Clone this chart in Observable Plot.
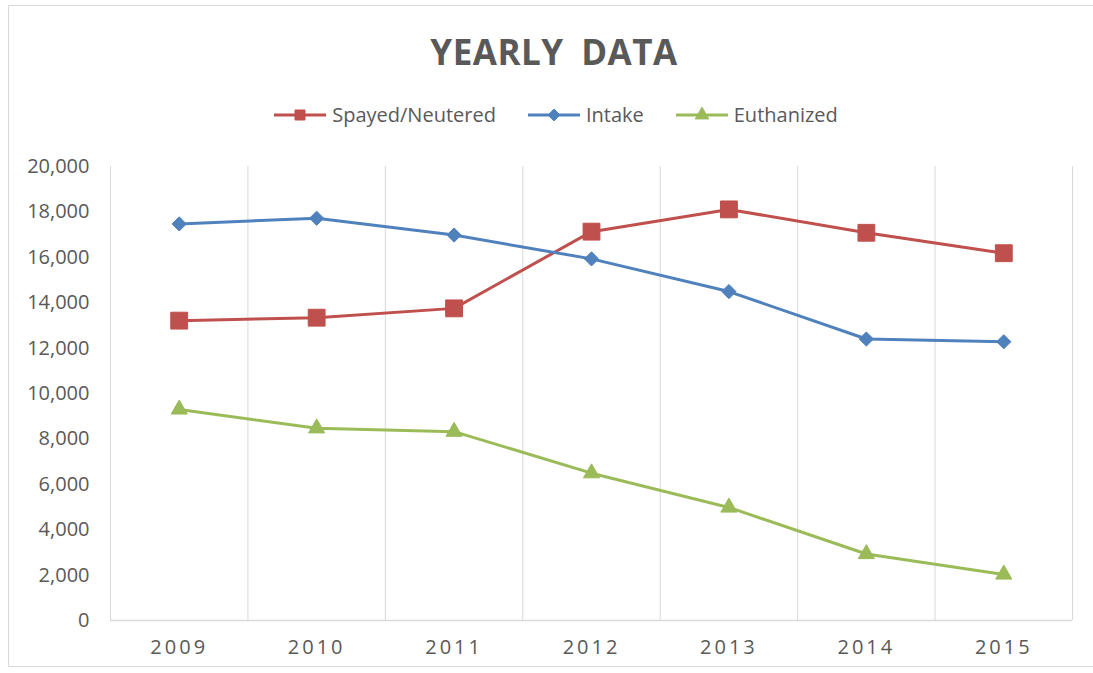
<!DOCTYPE html>
<html>
<head>
<meta charset="utf-8">
<script src="https://cdn.jsdelivr.net/npm/d3@7"></script>
<script src="https://cdn.jsdelivr.net/npm/@observablehq/plot@0.6"></script>
<style>
  html, body { margin: 0; padding: 0; background: #fff; }
  #wrap { position: relative; width: 1093px; height: 673px; overflow: hidden; font-family: "Open Sans", sans-serif; color: #595959; }
  #frame { position: absolute; left: 8px; top: 5px; width: 1100px; height: 662px; border: 1.5px solid #d9d9d9; box-sizing: border-box; }
  #title { position: absolute; left: 0; top: 34px; width: 1108px; text-align: center; font-size: 35px; line-height: 35px; font-weight: 700; letter-spacing: 0.5px; word-spacing: 8px; }
  #legend { position: absolute; left: 0; top: 100px; width: 1112px; height: 30px; display: flex; justify-content: center; align-items: center; font-size: 20px; line-height: 30px; }
  .item { display: flex; align-items: center; margin: 0 16px; }
  .item span { margin-left: 6px; }
  #chart { position: absolute; left: 0; top: 0; }
  #chart g[aria-label="x-axis tick label"] text { letter-spacing: 3px; }
</style>
</head>
<body>
<div id="wrap">
  <div id="frame"></div>
  <div id="chart"></div>
  <div id="title">YEARLY DATA</div>
  <div id="legend"></div>
</div>
<script>
// Yearly shelter figures
const years = [2009, 2010, 2011, 2012, 2013, 2014, 2015];
const spayedNeutered = [13210, 13340, 13750, 17130, 18110, 17080, 16180];
const intake = [17470, 17720, 16980, 15930, 14490, 12400, 12280];
const euthanized = [9300, 8470, 8320, 6490, 4980, 2930, 2030];

const seriesNames = ["Spayed/Neutered", "Intake", "Euthanized"];
const seriesValues = [spayedNeutered, intake, euthanized];
const seriesColors = ["#C0504D", "#4F81BD", "#9BBB59"];
const seriesSymbols = ["square", "diamond2", "triangle"];
const seriesMarkerR = [9.5, 6.4, 6];
const yTicks = [0, 2000, 4000, 6000, 8000, 10000, 12000, 14000, 16000, 18000, 20000];

// Category boundaries for the vertical separators
const boundaries = [...years.map(y => y - 0.5), years[years.length - 1] + 0.5];

const marks = [
  Plot.ruleX(boundaries, {y1: 0, y2: 20000, stroke: "#d9d9d9", strokeWidth: 1}),
  Plot.ruleY([0], {stroke: "#d9d9d9", strokeWidth: 1.5})
];

seriesNames.forEach((name, i) => {
  const rows = years.map((year, j) => ({year, value: seriesValues[i][j]}));
  marks.push(Plot.line(rows, {x: "year", y: "value", stroke: seriesColors[i], strokeWidth: 3}));
  marks.push(Plot.dot(rows, {x: "year", y: "value", symbol: () => seriesSymbols[i], r: seriesMarkerR[i],
    fill: seriesColors[i], stroke: seriesColors[i], strokeWidth: 1}));
});

const chart = Plot.plot({
  width: 1093,
  height: 673,
  marginTop: 166,
  marginBottom: 53,
  marginLeft: 110,
  marginRight: 21,
  style: {fontFamily: "Open Sans, sans-serif", fontSize: "20px", color: "#595959", background: "transparent", overflow: "visible"},
  x: {domain: [2008.5, 2015.5], ticks: years, tickFormat: d => String(d), tickSize: 0, tickPadding: 19, label: null},
  y: {domain: [0, 20000], ticks: yTicks, tickFormat: d3.format(","), tickSize: 0, tickPadding: 21, label: null},
  symbol: {domain: seriesSymbols, range: seriesSymbols},
  marks
});
document.getElementById("chart").appendChild(chart);

// Legend: line swatch with marker, then the series name
const legend = d3.select("#legend");
const legendSymbols = {square: d3.symbolSquare, diamond2: d3.symbolDiamond2, triangle: d3.symbolTriangle};
const legendSizes = [100, 90, 80];
seriesNames.forEach((name, i) => {
  const item = legend.append("div").attr("class", "item");
  const sw = item.append("svg").attr("width", 52).attr("height", 20);
  sw.append("line").attr("x1", 0).attr("x2", 52).attr("y1", 10).attr("y2", 10)
    .attr("stroke", seriesColors[i]).attr("stroke-width", 3);
  sw.append("path").attr("transform", "translate(26,10)")
    .attr("d", d3.symbol(legendSymbols[seriesSymbols[i]], legendSizes[i])())
    .attr("fill", seriesColors[i]).attr("stroke", seriesColors[i]);
  item.append("span").text(name);
});
</script>
</body>
</html>
